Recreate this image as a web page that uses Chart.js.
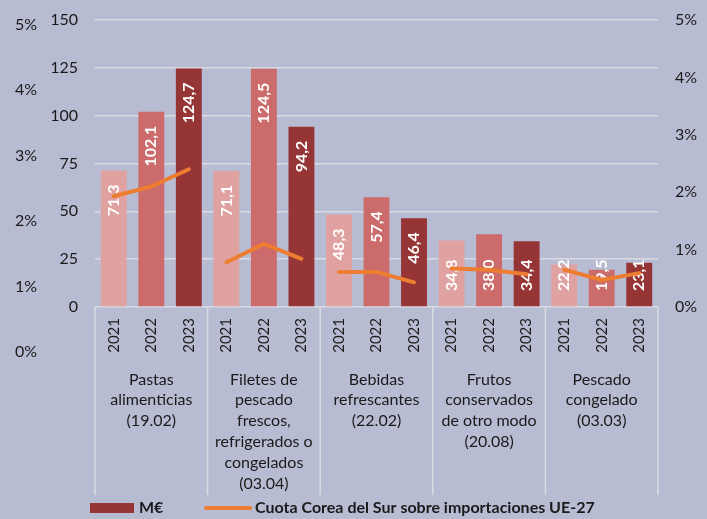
<!DOCTYPE html>
<html>
<head>
<meta charset="utf-8">
<script src="https://cdn.jsdelivr.net/npm/chart.js@4/dist/chart.umd.min.js"></script>
<style>
    html, body { margin: 0; padding: 0; background: #b8bcd2; }
    #wrap { width: 707px; height: 519px; }
</style>
</head>
<body>
<div id="wrap"><canvas id="chart" width="707" height="519"></canvas></div>
<script>
// --- Data ---
const years = ['2021', '2022', '2023', '2021', '2022', '2023', '2021', '2022', '2023',
    '2021', '2022', '2023', '2021', '2022', '2023'];
const groups = [
    ['Pastas', 'alimenticias', '(19.02)'],
    ['Filetes de', 'pescado', 'frescos,', 'refrigerados o', 'congelados', '(03.04)'],
    ['Bebidas', 'refrescantes', '(22.02)'],
    ['Frutos', 'conservados', 'de otro modo', '(20.08)'],
    ['Pescado', 'congelado', '(03.03)'],
];
const valuesMEUR = [71.3, 102.1, 124.7, 71.1, 124.5, 94.2, 48.3, 57.4, 46.4, 34.8, 38.0, 34.4, 22.2, 19.5, 23.1];
const shareKorea = [1.93, 2.10, 2.40, 0.78, 1.10, 0.84, 0.61, 0.61, 0.43, 0.67, 0.65, 0.57, 0.65, 0.47, 0.59];
const valueTicks = [0, 25, 50, 75, 100, 125, 150];
const shareTicks = [0, 1, 2, 3, 4, 5];
const legendLabels = ['M€', 'Cuota Corea del Sur sobre importaciones UE-27'];

// --- Styles ---
const colors = {
    bg: '#b8bcd2',
    text: '#1a1a1a',
    grid: '#dadbe2',
    bars: ['#e0a1a1', '#cb6b6b', '#963535'],
    orange: '#ed7d31',
};
const FONT = 'Lato, "DejaVu Sans", sans-serif';
Chart.defaults.font.family = FONT;
Chart.defaults.font.size = 16;
Chart.defaults.color = colors.text;

// fixed axis sizes so the plot box lands where it does in the original
function fixY(width) {
    return s => { s.width = width; s.paddingTop = 0; s.paddingBottom = 0; };
}
function fixX(height) {
    return s => { s.height = height; s.paddingLeft = 0; s.paddingRight = 0; };
}

// bar labels, drawn right after the bars so the line passes over them
const barLabels = {
    id: 'barLabels',
    afterDatasetDraw(chart, args) {
        if (args.index !== 0) return;
        const ctx = chart.ctx;
        const base = chart.scales.y.getPixelForValue(0);
        ctx.save();
        ctx.fillStyle = '#ffffff';
        ctx.font = `bold 16px ${FONT}`;
        ctx.textBaseline = 'middle';
        ctx.textAlign = 'right';
        args.meta.data.forEach((bar, i) => {
            const txt = valuesMEUR[i].toFixed(1).replace('.', ',');
            const w = ctx.measureText(txt).width;
            let top = bar.y + 14;
            if (base - bar.y < 80) top = base - 16 - w;
            ctx.save();
            ctx.translate(bar.x, top);
            ctx.rotate(-Math.PI / 2);
            ctx.fillText(txt, 0, 0);
            ctx.restore();
        });
        ctx.restore();
    },
};

// group separators below the plot + legend
const frame = {
    id: 'frame',
    afterDraw(chart) {
        const ctx = chart.ctx;
        const x = chart.scales.x;
        const area = chart.chartArea;
        const edges = [area.left];
        for (let g = 1; g < groups.length; g++) {
            edges.push((x.getPixelForValue(g * 3 - 1) + x.getPixelForValue(g * 3)) / 2);
        }
        edges.push(area.right);
        ctx.save();
        ctx.strokeStyle = colors.grid;
        ctx.lineWidth = 1.5;
        edges.forEach(px => {
            ctx.beginPath();
            ctx.moveTo(px, area.bottom);
            ctx.lineTo(px, 495);
            ctx.stroke();
        });

        // legend
        const ly = 508;
        ctx.fillStyle = colors.bars[2];
        ctx.fillRect(90, ly - 5, 44, 10);
        ctx.font = `bold 16px ${FONT}`;
        ctx.fillStyle = colors.text;
        ctx.textBaseline = 'middle';
        ctx.textAlign = 'left';
        ctx.fillText(legendLabels[0], 139, ly);
        ctx.strokeStyle = colors.orange;
        ctx.lineWidth = 4;
        ctx.lineCap = 'round';
        ctx.beginPath();
        ctx.moveTo(206, ly);
        ctx.lineTo(250, ly);
        ctx.stroke();
        ctx.fillText(legendLabels[1], 255, ly);
        ctx.restore();
    },
};

new Chart(document.getElementById('chart'), {
    data: {
        labels: years,
        datasets: [
            {
                type: 'bar',
                label: legendLabels[0],
                data: valuesMEUR,
                backgroundColor: valuesMEUR.map((_, i) => colors.bars[i % 3]),
                barPercentage: 0.69,
                categoryPercentage: 1,
                yAxisID: 'y',
                order: 1,
            },
            {
                type: 'line',
                label: legendLabels[1],
                data: shareKorea,
                borderColor: colors.orange,
                borderWidth: 4,
                borderCapStyle: 'round',
                borderJoinStyle: 'round',
                pointRadius: 0,
                tension: 0,
                yAxisID: 'y2',
                order: 0,
                segment: {
                    borderColor: c => (c.p0DataIndex % 3 === 2 ? 'transparent' : colors.orange),
                },
            },
        ],
    },
    options: {
        responsive: false,
        animation: false,
        layout: { padding: { top: 20, bottom: 24, left: 0, right: 0 } },
        plugins: {
            legend: { display: false },
            tooltip: { enabled: false },
        },
        scales: {
            x: {
                type: 'category',
                offset: true,
                grid: { display: false, drawTicks: false },
                border: { display: false },
                ticks: { minRotation: 90, maxRotation: 90, autoSkip: false, padding: 11, font: { size: 15 } },
                afterFit: fixX(48),
            },
            x2: {
                type: 'category',
                labels: groups,
                offset: true,
                position: 'bottom',
                grid: { display: false, drawTicks: false },
                border: { display: false },
                ticks: { maxRotation: 0, autoSkip: false, padding: 14, font: { size: 16, lineHeight: 1.3 } },
                afterFit: fixX(140),
            },
            y: {
                position: 'left',
                weight: 0,
                min: 0,
                max: 150,
                afterBuildTicks: s => { s.ticks = valueTicks.map(v => ({ value: v })); },
                grid: { color: colors.grid, lineWidth: 1.5, drawTicks: false },
                border: { display: false },
                ticks: { padding: 17 },
                afterFit: fixY(43),
            },
            yL: {
                position: 'left',
                weight: 1,
                min: 0.687,
                max: 5.069,
                afterBuildTicks: s => { s.ticks = shareTicks.map(v => ({ value: v })); },
                grid: { display: false, drawTicks: false },
                border: { display: false },
                ticks: { padding: 15, callback: v => v + '%' },
                afterFit: fixY(52),
            },
            y2: {
                position: 'right',
                min: 0,
                max: 5,
                afterBuildTicks: s => { s.ticks = shareTicks.map(v => ({ value: v })); },
                grid: { display: false, drawTicks: false },
                border: { display: false },
                ticks: { padding: 17, callback: v => v + '%' },
                afterFit: fixY(49),
            },
        },
    },
    plugins: [barLabels, frame],
});
</script>
</body>
</html>
